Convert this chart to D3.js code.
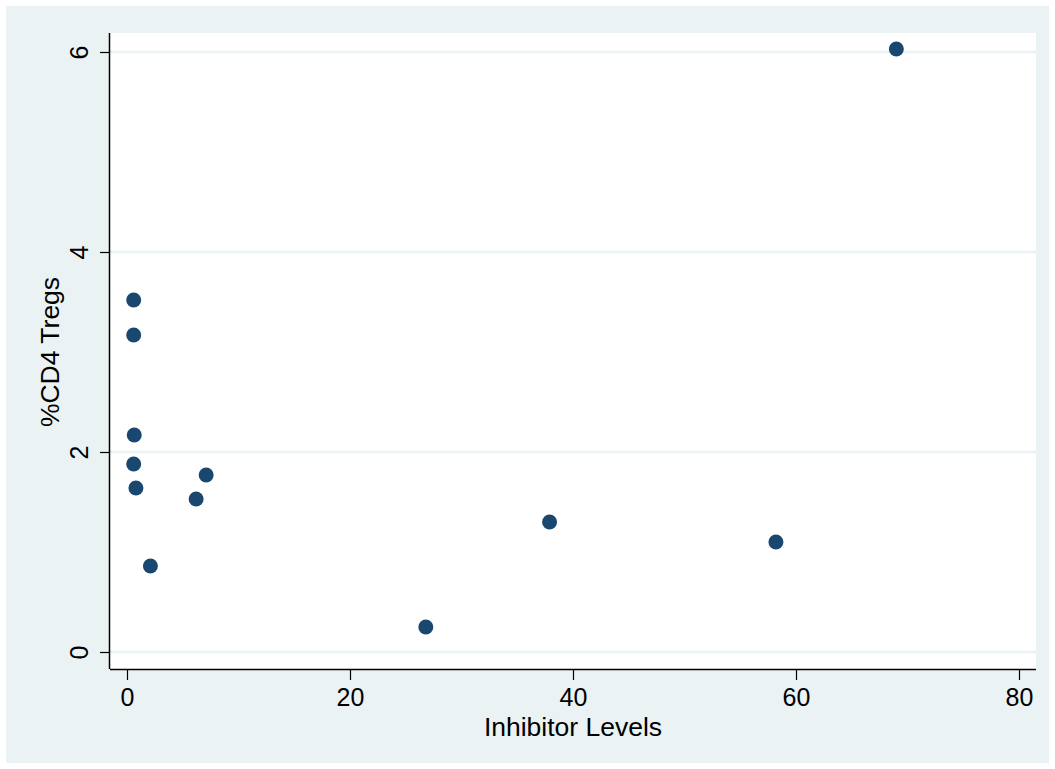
<!DOCTYPE html>
<html>
<head>
<meta charset="utf-8">
<script src="https://cdn.jsdelivr.net/npm/d3@7"></script>
<style>
  body { margin: 0; background: #fff; }
  text { font-family: "Liberation Sans", Arial, sans-serif; fill: #000; }
</style>
</head>
<body>
<svg id="chart"></svg>
<script>
// Inhibitor levels (x) vs %CD4 Tregs (y)
const inhibitor = [69.0, 0.6, 0.6, 0.65, 0.6, 0.8, 2.1, 6.2, 7.1, 26.8, 37.9, 58.2];
const tregs     = [6.03, 3.52, 3.17, 2.17, 1.88, 1.64, 0.86, 1.53, 1.77, 0.25, 1.30, 1.10];
const xTicks = [0, 20, 40, 60, 80];
const yTicks = [0, 2, 4, 6];

const W = 1055, H = 769;
const margin = {top: 33, right: 19, bottom: 100, left: 110};

const svg = d3.select('#chart').attr('width', W).attr('height', H);

// outer graph region
svg.append('rect')
    .attr('x', 6).attr('y', 6)
    .attr('width', W - 12).attr('height', H - 12)
    .attr('fill', '#eaf2f3');

const width = W - margin.left - margin.right;
const height = H - margin.top - margin.bottom;

const g = svg.append('g')
    .attr('transform', `translate(${margin.left},${margin.top})`);

g.append('rect')
    .attr('width', width).attr('height', height)
    .attr('fill', '#fff');

const xScale = d3.scaleLinear().domain([0, 80]).range([17, 909]);
const yScale = d3.scaleLinear().domain([0, 6]).range([619, 19]);

// grid lines
g.selectAll('.grid')
    .data(yTicks)
    .join('line')
    .attr('class', 'grid')
    .attr('x1', 0).attr('x2', width)
    .attr('y1', d => yScale(d)).attr('y2', d => yScale(d))
    .attr('stroke', '#eaf2f3')
    .attr('stroke-width', 2.5);

// axes
const xAxis = d3.axisBottom(xScale).tickValues(xTicks).tickSize(11).tickPadding(8).tickFormat(d3.format('d'));
const yAxis = d3.axisLeft(yScale).tickValues(yTicks).tickSize(10).tickPadding(8).tickFormat(d3.format('d'));

const xAxisG = g.append('g')
    .attr('transform', `translate(0,${height})`)
    .call(xAxis);
xAxisG.select('.domain').attr('d', `M0,0.5H${width}`).attr('stroke', '#000').attr('stroke-width', 1.5);
xAxisG.selectAll('.tick line').attr('stroke', '#000').attr('stroke-width', 1.2);
xAxisG.selectAll('.tick text').attr('font-size', 25).attr('fill', '#000')
    .style('font-family', '"Liberation Sans", Arial, sans-serif');

const yAxisG = g.append('g').call(yAxis);
yAxisG.select('.domain').attr('d', `M-0.5,0V${height}`).attr('stroke', '#000').attr('stroke-width', 1.5);
yAxisG.selectAll('.tick line').attr('stroke', '#000').attr('stroke-width', 1.2);
yAxisG.selectAll('.tick text')
    .attr('font-size', 25).attr('fill', '#000')
    .style('font-family', '"Liberation Sans", Arial, sans-serif')
    .attr('x', null).attr('dy', null)
    .attr('text-anchor', 'middle')
    .attr('transform', 'translate(-22,0) rotate(-90)');

// axis titles
g.append('text')
    .attr('x', (xScale(0) + xScale(80)) / 2)
    .attr('y', height + 67)
    .attr('text-anchor', 'middle')
    .attr('font-size', 26.5)
    .text('Inhibitor Levels');

g.append('text')
    .attr('transform', `translate(${-51},${(yScale(0) + yScale(6)) / 2}) rotate(-90)`)
    .attr('text-anchor', 'middle')
    .attr('font-size', 26.5)
    .text('%CD4 Tregs');

// points
g.selectAll('.dot')
    .data(inhibitor.map((x, i) => ({x, y: tregs[i]})))
    .join('circle')
    .attr('class', 'dot')
    .attr('cx', d => xScale(d.x))
    .attr('cy', d => yScale(d.y))
    .attr('r', 7.5)
    .attr('fill', '#1a476f');
</script>
</body>
</html>
